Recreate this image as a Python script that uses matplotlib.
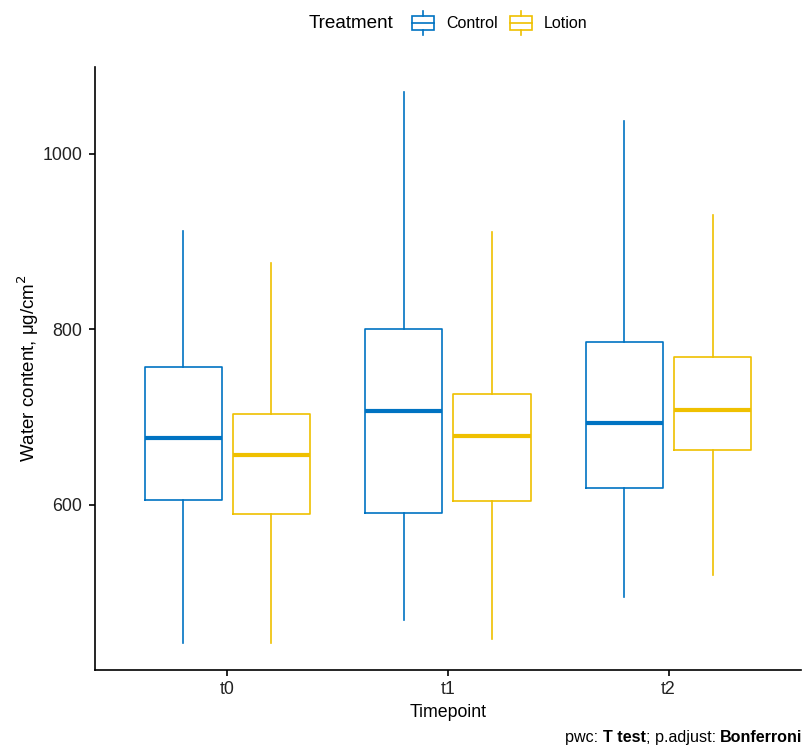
import numpy as np
import matplotlib
matplotlib.use("Agg")
import matplotlib.pyplot as plt
from matplotlib.legend_handler import HandlerBase
from matplotlib.patches import Rectangle, Patch
from matplotlib.lines import Line2D
from matplotlib.offsetbox import HPacker

plt.rcParams['font.family'] = ['Liberation Sans', 'DejaVu Sans']

# ---------------- DATA ----------------
timepoints = ["t0", "t1", "t2"]
treatments = ["Control", "Lotion"]
colors = {"Control": "#0073C2", "Lotion": "#EFC000"}

# five-number summaries: (whislo, q1, med, q3, whishi)
control_stats = [
    (443, 606, 676, 757, 912),
    (469, 591, 707, 801, 1070),
    (495, 619, 693, 786, 1038),
]
lotion_stats = [
    (443, 590, 657, 704, 876),
    (447, 605, 679, 727, 911),
    (520, 663, 708, 769, 930),
]
# --------------------------------------

fig = plt.figure(figsize=(8.05, 7.48), dpi=100)
ax = fig.add_axes([0.118, 0.1043, 0.877, 0.8061])

offsets = {"Control": -0.2, "Lotion": 0.2}
for trt, stats in [("Control", control_stats), ("Lotion", lotion_stats)]:
    bx = []
    for lo, q1, med, q3, hi in stats:
        bx.append(dict(whislo=lo, q1=q1, med=med, q3=q3, whishi=hi, fliers=[]))
    pos = np.arange(1, len(timepoints) + 1) + offsets[trt]
    c = colors[trt]
    ax.bxp(bx, positions=pos, widths=0.35, showcaps=False, showfliers=False,
           boxprops=dict(color=c, linewidth=1.2),
           whiskerprops=dict(color=c, linewidth=1.2),
           medianprops=dict(color=c, linewidth=3, solid_capstyle="butt"),
           manage_ticks=False)

ax.set_xlim(0.4, 3.6)
ax.set_ylim(412, 1099)
ax.set_xticks(np.arange(1, len(timepoints) + 1))
ax.set_xticklabels(timepoints)
ax.set_yticks([600, 800, 1000])
for s in ["top", "right"]:
    ax.spines[s].set_visible(False)
for s in ["left", "bottom"]:
    ax.spines[s].set_linewidth(1.2)
ax.tick_params(axis="both", labelsize=12.8, length=4, width=1.2, color="black",
               labelcolor="#222222")
ax.tick_params(axis="y", pad=5)
ax.tick_params(axis="x", pad=4)
ax.set_xlabel("Timepoint", fontsize=12.8, labelpad=4)
ax.set_ylabel("Water content, μg/cm$^2$", fontsize=13.5, labelpad=1)


# legend key drawn like a small boxplot
class BoxHandler(HandlerBase):
    def create_artists(self, legend, orig_handle, xdescent, ydescent,
                       width, height, fontsize, trans):
        c = orig_handle.get_edgecolor()
        w, h = width * 0.95, height * 1.0
        x0 = (width - w) / 2 - xdescent
        y0 = (height - h) / 2 - ydescent
        rect = Rectangle((x0, y0), w, h, facecolor="white", edgecolor=c,
                         linewidth=1.2, transform=trans)
        mid = Line2D([x0, x0 + w], [y0 + h / 2] * 2, color=c, lw=1.2, transform=trans)
        cx = x0 + w / 2
        top = Line2D([cx, cx], [y0 + h, y0 + h + 4], color=c, lw=1.2, transform=trans)
        bot = Line2D([cx, cx], [y0 - 4, y0], color=c, lw=1.2, transform=trans)
        return [rect, mid, top, bot]


handles = [Patch(edgecolor=colors[t], facecolor="white") for t in treatments]
leg = fig.legend(handles, treatments, title="Treatment", loc="center",
                 bbox_to_anchor=(0.557, 0.968), ncol=2, frameon=False,
                 fontsize=11.5, title_fontsize=13.6, handler_map={Patch: BoxHandler()},
                 handlelength=1.4, handleheight=0.95, handletextpad=0.75,
                 columnspacing=0.75)
# put title inline (left of keys)
title_box = leg._legend_title_box
body = leg._legend_handle_box
leg._legend_box._children = [HPacker(pad=0, sep=13, children=[title_box, body], align="baseline")]

# caption with bold parts, right aligned
fs_cap = 11.6
t4 = fig.text(0.997, 0.004, "Bonferroni", ha="right", va="bottom", fontsize=fs_cap,
              fontweight="bold")
t3 = ax.annotate("; p.adjust: ", xy=(0, 0), xycoords=t4, ha="right", va="bottom",
                 fontsize=fs_cap)
t2 = ax.annotate("T test", xy=(0, 0), xycoords=t3, ha="right", va="bottom",
                 fontsize=fs_cap, fontweight="bold")
t1 = ax.annotate("pwc: ", xy=(0, 0), xycoords=t2, ha="right", va="bottom",
                 fontsize=fs_cap)

fig.savefig("out.png", dpi=100)
